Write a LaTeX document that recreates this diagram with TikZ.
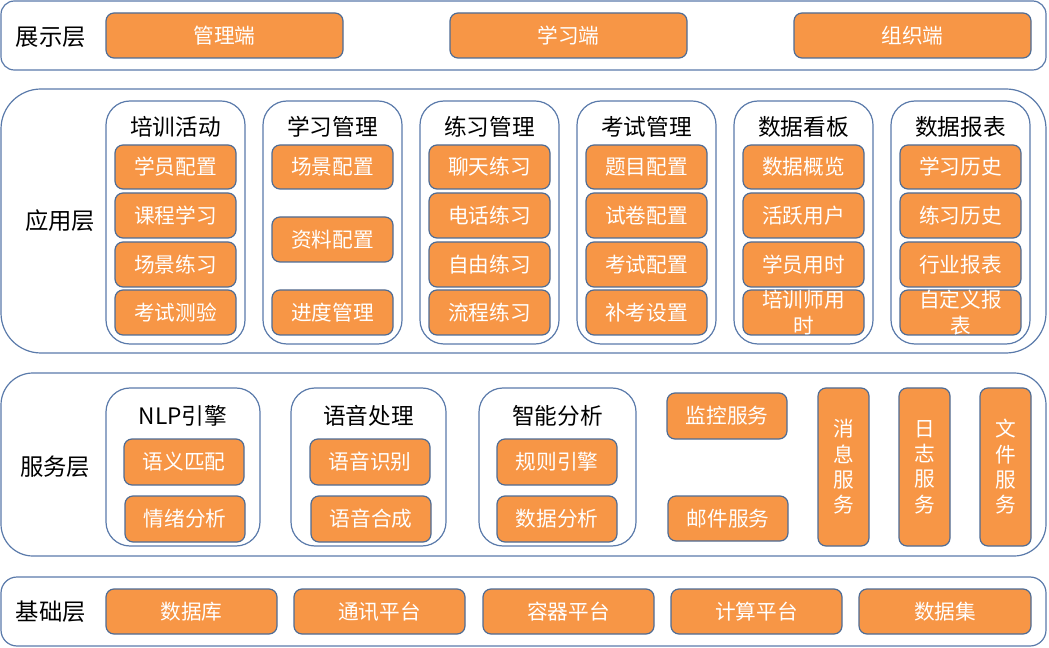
\documentclass[tikz,border=0pt]{standalone}
\usepackage{fontspec}
\setmainfont{Noto Sans CJK SC}
\definecolor{org}{HTML}{F79646}
\definecolor{orgline}{HTML}{4E6C95}
\definecolor{outline}{HTML}{5A7AAA}
\tikzset{
  x=0.75pt, y=-0.75pt,
  obox/.style={draw=orgline, fill=org, line width=0.9pt, rounded corners=6pt, text=white, font=\fontsize{15.5}{18}\selectfont, inner sep=0pt, outer sep=0pt, align=center},
  vbox/.style={obox, font=\fontsize{15.5}{19}\selectfont},
  layer/.style={draw=outline, line width=0.9pt, inner sep=0pt, outer sep=0pt},
  grp/.style={draw=outline, line width=0.9pt, rounded corners=18pt, inner sep=0pt, outer sep=0pt},
  lbl/.style={font=\fontsize{17.5}{20}\selectfont, text=black, inner sep=0pt},
  ttl/.style={font=\fontsize{17}{20}\selectfont, text=black, inner sep=0pt},
}
\newcommand\bx[7]{\node[#1, anchor=north west, minimum width={(#5-#3)*0.75pt}, minimum height={(#6-#4)*0.75pt}] (#2) at (#3,#4) {#7};}
\begin{document}
\begin{tikzpicture}
\useasboundingbox (0,0) rectangle (1049,648);
% ---------- layers ----------
\bx{layer, rounded corners=10pt}{L1}{1}{1}{1046}{70}{}
\bx{layer, rounded corners=30pt}{L2}{1}{89}{1046}{353}{}
\bx{layer, rounded corners=24pt}{L3}{1}{373}{1046}{556}{}
\bx{layer, rounded corners=12pt}{L4}{1}{577}{1046}{646}{}
\node[lbl] (l1) at (51,37) {展示层};
\node[lbl] (l2) at (60,221) {应用层};
\node[lbl] (l3) at (55,467) {服务层};
\node[lbl] (l4) at (51,612) {基础层};
% ---------- presentation ----------
\bx{obox}{p1}{106}{13}{343}{58}{管理端}
\bx{obox}{p2}{450}{13}{687}{58}{学习端}
\bx{obox}{p3}{794}{13}{1031}{58}{组织端}
% ---------- application groups ----------
\bx{grp}{g1}{106}{101}{245}{344}{}
\bx{grp}{g2}{263}{101}{402}{344}{}
\bx{grp}{g3}{420}{101}{559}{344}{}
\bx{grp}{g4}{577}{101}{716}{344}{}
\bx{grp}{g5}{734}{101}{873}{344}{}
\bx{grp}{g6}{891}{101}{1030}{344}{}
\node[ttl] (t1) at (175.5,127) {培训活动};
\node[ttl] (t2) at (332.5,127) {学习管理};
\node[ttl] (t3) at (489.5,127) {练习管理};
\node[ttl] (t4) at (646.5,127) {考试管理};
\node[ttl] (t5) at (803.5,127) {数据看板};
\node[ttl] (t6) at (960.5,127) {数据报表};
% group 1
\bx{obox}{a11}{115}{145}{236}{189}{学员配置}
\bx{obox}{a12}{115}{193}{236}{238}{课程学习}
\bx{obox}{a13}{115}{242}{236}{287}{场景练习}
\bx{obox}{a14}{115}{290}{236}{335}{考试测验}
% group 2
\bx{obox}{a21}{272}{145}{393}{189}{场景配置}
\bx{obox}{a22}{272}{217}{393}{262}{资料配置}
\bx{obox}{a23}{272}{290}{393}{335}{进度管理}
% group 3
\bx{obox}{a31}{429}{145}{550}{189}{聊天练习}
\bx{obox}{a32}{429}{193}{550}{238}{电话练习}
\bx{obox}{a33}{429}{242}{550}{287}{自由练习}
\bx{obox}{a34}{429}{290}{550}{335}{流程练习}
% group 4
\bx{obox}{a41}{586}{145}{707}{189}{题目配置}
\bx{obox}{a42}{586}{193}{707}{238}{试卷配置}
\bx{obox}{a43}{586}{242}{707}{287}{考试配置}
\bx{obox}{a44}{586}{290}{707}{335}{补考设置}
% group 5
\bx{obox}{a51}{743}{145}{864}{189}{数据概览}
\bx{obox}{a52}{743}{193}{864}{238}{活跃用户}
\bx{obox}{a53}{743}{242}{864}{287}{学员用时}
\bx{obox, font=\fontsize{15.5}{19}\selectfont}{a54}{743}{290}{864}{335}{培训师用\\时}
% group 6
\bx{obox}{a61}{900}{145}{1021}{189}{学习历史}
\bx{obox}{a62}{900}{193}{1021}{238}{练习历史}
\bx{obox}{a63}{900}{242}{1021}{287}{行业报表}
\bx{obox, font=\fontsize{15.5}{19}\selectfont}{a64}{900}{290}{1021}{335}{自定义报\\表}
% ---------- service layer ----------
\bx{grp}{s1}{106}{388}{260}{546}{}
\bx{grp}{s2}{291}{388}{446}{546}{}
\bx{grp}{s3}{479}{388}{636}{546}{}
\node[ttl] (st1) at (183,416) {NLP引擎};
\node[ttl] (st2) at (368.5,416) {语音处理};
\node[ttl] (st3) at (557.5,416) {智能分析};
\bx{obox}{b11}{124}{439}{244}{485}{语义匹配}
\bx{obox}{b12}{125}{496}{245}{542}{情绪分析}
\bx{obox}{b21}{310}{439}{430}{485}{语音识别}
\bx{obox}{b22}{311}{496}{431}{542}{语音合成}
\bx{obox}{b31}{497}{439}{617}{485}{规则引擎}
\bx{obox}{b32}{497}{496}{617}{542}{数据分析}
\bx{obox}{b41}{667}{393}{787}{439}{监控服务}
\bx{obox}{b42}{668}{496}{788}{541}{邮件服务}
\bx{vbox}{v1}{818}{388}{869}{546}{消\\息\\服\\务}
\bx{vbox}{v2}{899}{388}{950}{546}{日\\志\\服\\务}
\bx{vbox}{v3}{980}{388}{1031}{546}{文\\件\\服\\务}
% ---------- base layer ----------
\bx{obox}{c1}{106}{589}{277}{634}{数据库}
\bx{obox}{c2}{294}{589}{465}{634}{通讯平台}
\bx{obox}{c3}{483}{589}{654}{634}{容器平台}
\bx{obox}{c4}{671}{589}{842}{634}{计算平台}
\bx{obox}{c5}{859}{589}{1031}{634}{数据集}
\end{tikzpicture}
\end{document}
